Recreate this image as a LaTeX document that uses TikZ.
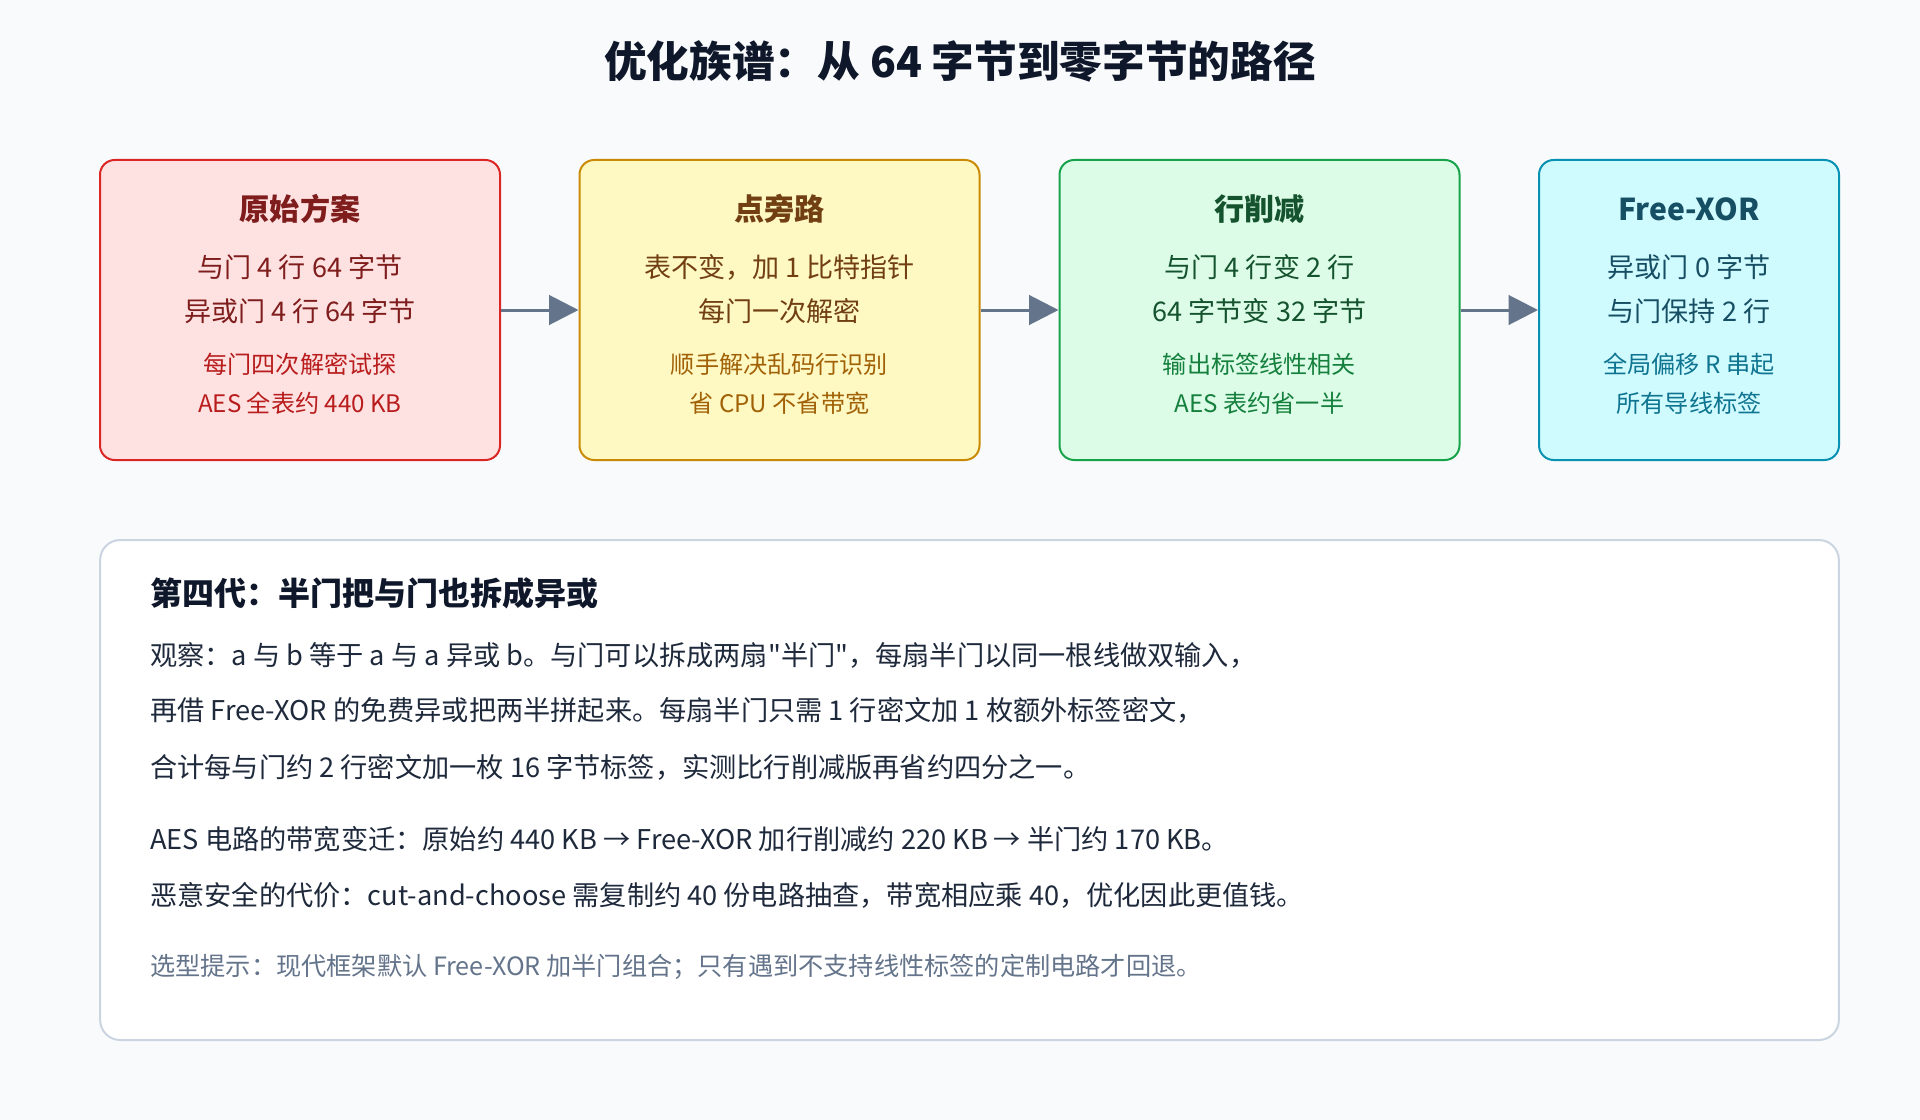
\documentclass[tikz,border=0pt]{standalone}
\usepackage{fontspec}
\setmainfont{Noto Sans CJK SC}[Ligatures=TeXOff]
\usetikzlibrary{arrows.meta}

\definecolor{pagebg}{HTML}{F8FAFC}
\definecolor{ink}{HTML}{0F172A}
\definecolor{bodyink}{HTML}{1E293B}
\definecolor{noteink}{HTML}{64748B}
\definecolor{arrowgray}{HTML}{64748B}
\definecolor{panelline}{HTML}{CBD5E1}
\definecolor{redfill}{HTML}{FEE2E2}
\definecolor{redline}{HTML}{DC2626}
\definecolor{redink}{HTML}{7F1D1D}
\definecolor{redsub}{HTML}{B91C1C}
\definecolor{yelfill}{HTML}{FEF9C3}
\definecolor{yelline}{HTML}{CA8A04}
\definecolor{yelink}{HTML}{713F12}
\definecolor{yelsub}{HTML}{A16207}
\definecolor{grnfill}{HTML}{DCFCE7}
\definecolor{grnline}{HTML}{16A34A}
\definecolor{grnink}{HTML}{14532D}
\definecolor{grnsub}{HTML}{15803D}
\definecolor{cyafill}{HTML}{CFFAFE}
\definecolor{cyaline}{HTML}{0891B2}
\definecolor{cyaink}{HTML}{164E63}
\definecolor{cyasub}{HTML}{0E7490}

\tikzset{
  card/.style={draw, line width=1.5pt, rounded corners=11pt, minimum height=225pt, inner sep=0pt},
  cardtitle/.style={inner sep=0pt, font=\fontsize{22.6pt}{27pt}\selectfont\bfseries},
  cardline/.style={inner sep=0pt, font=\fontsize{20.3pt}{24pt}\selectfont},
  cardsub/.style={inner sep=0pt, font=\fontsize{18.1pt}{22pt}\selectfont},
  flow/.style={draw=arrowgray, line width=2.25pt, -{Triangle[length=22pt,width=22pt]}},
  txt/.style={inner sep=0pt, anchor=west, text=bodyink, font=\fontsize{20.4pt}{24pt}\selectfont}
}

\begin{document}
\begin{tikzpicture}[x=0.75pt,y=-0.75pt]
   \fill[pagebg] (0,0) rectangle (1920,1120);
   \useasboundingbox (0,0) rectangle (1920,1120);

   % title
   \node[inner sep=0pt, text=ink, font=\fontsize{32pt}{38pt}\selectfont\bfseries] (title) at (960,61) {优化族谱：从 64 字节到零字节的路径};

   % four cards
   \node[card, fill=redfill, draw=redline, minimum width=300pt] (orig) at (300,310) {};
   \node[card, fill=yelfill, draw=yelline, minimum width=300pt] (point) at (779.5,310) {};
   \node[card, fill=grnfill, draw=grnline, minimum width=300pt] (rowred) at (1259.5,310) {};
   \node[card, fill=cyafill, draw=cyaline, minimum width=225pt] (freexor) at (1689,310) {};

   \node[cardtitle, text=redink] (origt) at (300,209) {原始方案};
   \node[cardline, text=redink] (origa) at (300,267) {与门 4 行 64 字节};
   \node[cardline, text=redink] (origb) at (300,311) {异或门 4 行 64 字节};
   \node[cardsub, text=redsub] (origc) at (300,364) {每门四次解密试探};
   \node[cardsub, text=redsub] (origd) at (300,403) {AES 全表约 440 KB};

   \node[cardtitle, text=yelink] (pointt) at (779.5,209) {点旁路};
   \node[cardline, text=yelink] (pointa) at (779.5,267) {表不变，加 1 比特指针};
   \node[cardline, text=yelink] (pointb) at (779.5,311) {每门一次解密};
   \node[cardsub, text=yelsub] (pointc) at (779.5,364) {顺手解决乱码行识别};
   \node[cardsub, text=yelsub] (pointd) at (779.5,403) {省 CPU 不省带宽};

   \node[cardtitle, text=grnink] (rowredt) at (1259.5,209) {行削减};
   \node[cardline, text=grnink] (rowreda) at (1259.5,267) {与门 4 行变 2 行};
   \node[cardline, text=grnink] (rowredb) at (1259.5,311) {64 字节变 32 字节};
   \node[cardsub, text=grnsub] (rowredc) at (1259.5,364) {输出标签线性相关};
   \node[cardsub, text=grnsub] (rowredd) at (1259.5,403) {AES 表约省一半};

   \node[cardtitle, text=cyaink] (freexort) at (1689,209) {Free-XOR};
   \node[cardline, text=cyaink] (freexora) at (1689,267) {异或门 0 字节};
   \node[cardline, text=cyaink] (freexorb) at (1689,311) {与门保持 2 行};
   \node[cardsub, text=cyasub] (freexorc) at (1689,364) {全局偏移 R 串起};
   \node[cardsub, text=cyasub] (freexord) at (1689,403) {所有导线标签};

   \draw[flow] (orig.east) -- (point.west);
   \draw[flow] (point.east) -- (rowred.west);
   \draw[flow] (rowred.east) -- (freexor.west);

   % half-gates panel
   \node[draw=panelline, fill=white, line width=1.5pt, rounded corners=15pt, minimum width=1304pt, minimum height=375pt, inner sep=0pt] (panel) at (969.5,790) {};
   \node[inner sep=0pt, anchor=west, text=ink, font=\fontsize{24pt}{29pt}\selectfont\bfseries] (panelt) at (150,593) {第四代：半门把与门也拆成异或};
   \node[txt] (line1) at (150,655) {观察：a 与 b 等于 a 与 a 异或 b。与门可以拆成两扇"半门"，每扇半门以同一根线做双输入，};
   \node[txt] (line2) at (150,710) {再借 Free-XOR 的免费异或把两半拼起来。每扇半门只需 1 行密文加 1 枚额外标签密文，};
   \node[txt] (line3) at (150,767) {合计每与门约 2 行密文加一枚 16 字节标签，实测比行削减版再省约四分之一。};
   \node[txt] (line4) at (150,839) {AES 电路的带宽变迁：原始约 440 KB → Free-XOR 加行削减约 220 KB → 半门约 170 KB。};
   \node[txt] (line5) at (150,895) {恶意安全的代价：cut-and-choose 需复制约 40 份电路抽查，带宽相应乘 40，优化因此更值钱。};
   \node[txt, text=noteink, font=\fontsize{18.9pt}{23pt}\selectfont] (note) at (150,967) {选型提示：现代框架默认 Free-XOR 加半门组合；只有遇到不支持线性标签的定制电路才回退。};
\end{tikzpicture}
\end{document}
